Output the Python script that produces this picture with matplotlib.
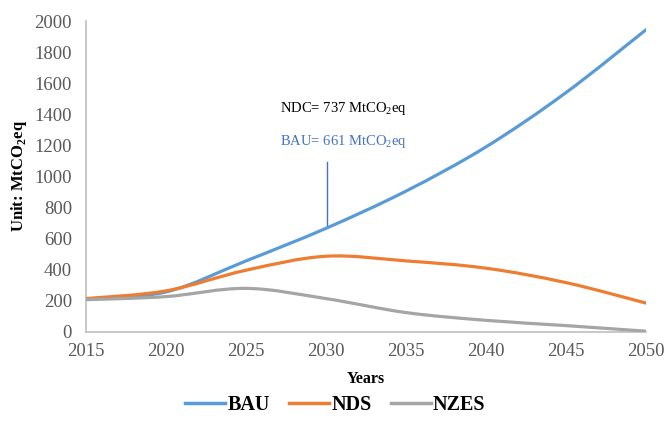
import matplotlib
matplotlib.use("Agg")
import matplotlib.pyplot as plt
from matplotlib.path import Path
from matplotlib.patches import PathPatch
from matplotlib.lines import Line2D
import numpy as np

plt.rcParams['font.family'] = ['Liberation Serif', 'DejaVu Serif']
plt.rcParams['mathtext.fontset'] = 'custom'
plt.rcParams['mathtext.rm'] = 'Liberation Serif'
plt.rcParams['mathtext.bf'] = 'Liberation Serif:bold'

years = [2015, 2020, 2025, 2030, 2035, 2040, 2045, 2050]
bau = [210, 255, 455, 665, 905, 1190, 1540, 1945]
nds = [212, 262, 395, 485, 455, 408, 315, 183]
nzes = [205, 225, 278, 212, 122, 72, 38, 2]
series_names = ["BAU", "NDS", "NZES"]
colors = ["#5B9BD5", "#ED7D31", "#A5A5A5"]
y_ticks = list(range(0, 2001, 200))
x_ticks = list(range(2015, 2051, 5))


def smooth_path(x, y):
    x = np.asarray(x, float)
    y = np.asarray(y, float)
    n = len(x)
    verts = [(x[0], y[0])]
    codes = [Path.MOVETO]
    for i in range(n - 1):
        p0 = np.array([x[max(i - 1, 0)], y[max(i - 1, 0)]])
        p1 = np.array([x[i], y[i]])
        p2 = np.array([x[i + 1], y[i + 1]])
        p3 = np.array([x[min(i + 2, n - 1)], y[min(i + 2, n - 1)]])
        c1 = p1 + (p2 - p0) / 6.0
        c2 = p2 - (p3 - p1) / 6.0
        verts += [tuple(c1), tuple(c2), tuple(p2)]
        codes += [Path.CURVE4] * 3
    return Path(verts, codes)


fig = plt.figure(figsize=(6.64, 4.23), dpi=100)
ax = fig.add_axes([0.1295, 0.2163, 0.8435, 0.7337])

for vals, c in zip([bau, nds, nzes], colors):
    ax.add_patch(PathPatch(smooth_path(years, vals), facecolor='none',
                           edgecolor=c, lw=2.3, capstyle='round', zorder=3))

ax.set_xlim(2015, 2050)
ax.set_ylim(0, 2000)
ax.set_xticks(x_ticks)
ax.set_yticks(y_ticks)
ax.tick_params(axis='both', length=0, labelsize=13.5, colors='#595959')
ax.tick_params(axis='x', pad=8)
ax.tick_params(axis='y', pad=10)
for s in ['top', 'right']:
    ax.spines[s].set_visible(False)
for s in ['left', 'bottom']:
    ax.spines[s].set_color('#BFBFBF')
    ax.spines[s].set_linewidth(1.2)

ax.set_xlabel("Years", fontsize=11.5, fontweight='bold', labelpad=8)
ax.set_ylabel("Unit: MtCO$_\\mathbf{2}$eq", fontsize=12, fontweight='bold', labelpad=4)

# annotation
ax.plot([2030.05, 2030.05], [680, 1090], color='#4472C4', lw=1.0, zorder=2)
ax.text(2027.1, 1440, "NDC= 737 MtCO$_\\mathregular{2}$eq", fontsize=10.5, color='black',
        va='center', ha='left')
ax.text(2027.1, 1225, "BAU= 661 MtCO$_\\mathregular{2}$eq", fontsize=10.5, color='#4472C4',
        va='center', ha='left')

handles = [Line2D([0], [0], color=c, lw=2.5) for c in colors]
leg = fig.legend(handles, series_names, loc='center', bbox_to_anchor=(0.505, 0.042),
                 ncol=3, frameon=False, handlelength=2.0, handletextpad=0.1,
                 columnspacing=0.95, prop={'weight': 'bold', 'size': 14.5})

fig.savefig("out.png", dpi=100)
